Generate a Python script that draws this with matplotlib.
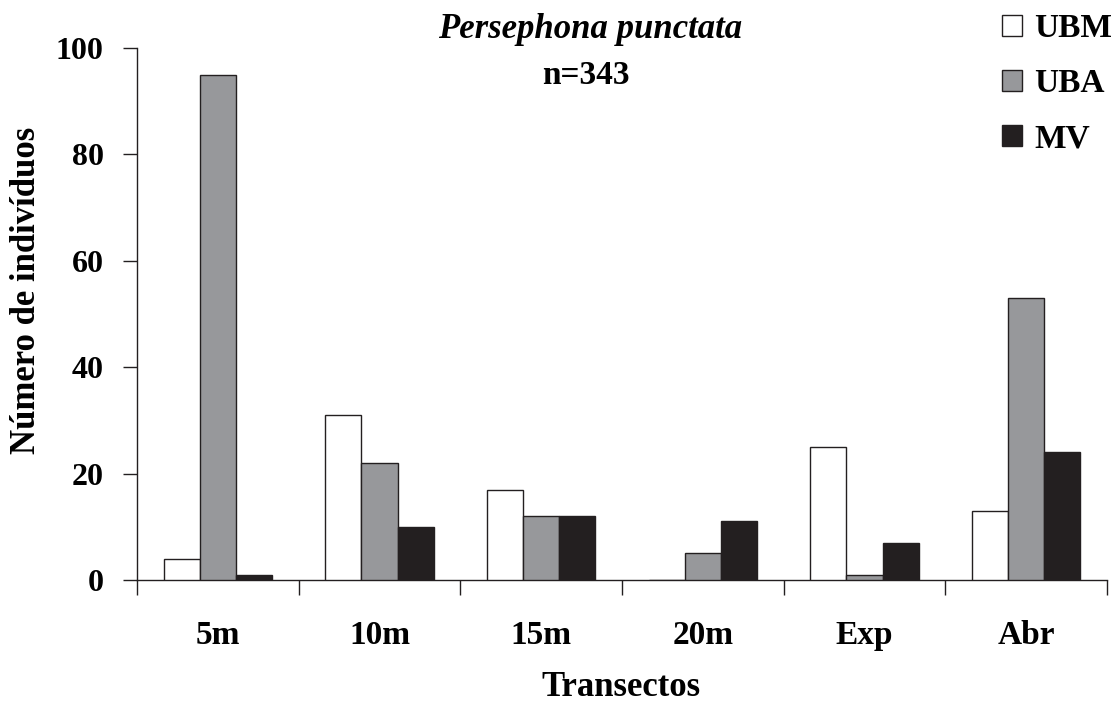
import matplotlib
matplotlib.use("Agg")
import matplotlib.pyplot as plt
import numpy as np
from matplotlib.patches import Patch

categories = ["5m", "10m", "15m", "20m", "Exp", "Abr"]
series_names = ["UBM", "UBA", "MV"]
ubm = [4, 31, 17, 0, 25, 13]
uba = [95, 22, 12, 5, 1, 53]
mv = [1, 10, 12, 11, 7, 24]
yticks = [0, 20, 40, 60, 80, 100]

colors = ["#ffffff", "#97989b", "#231f20"]
edge = "#231f20"

plt.rcParams['font.family'] = ['Liberation Serif', 'DejaVu Serif']
plt.rcParams['font.weight'] = 'bold'

fig = plt.figure(figsize=(11.2, 7.04), dpi=100)
ax = fig.add_axes([137/1120, 1-580/704, (1107-137)/1120, (580-48)/704])

x = np.arange(len(categories))
w = 0.223
for i, (vals, c) in enumerate(zip([ubm, uba, mv], colors)):
    ax.bar(x + (i-1)*w, vals, width=w, color=c, edgecolor=edge, linewidth=1.0,
           label=series_names[i], zorder=3)

ax.set_xlim(-0.5, len(categories)-0.5)
ax.set_ylim(0, 100)
ax.spines['top'].set_visible(False)
ax.spines['right'].set_visible(False)
for s in ['left', 'bottom']:
    ax.spines[s].set_linewidth(1.0)
    ax.spines[s].set_color(edge)

ax.set_yticks(yticks)
ax.set_yticklabels([str(v) for v in yticks], fontsize=23, fontweight='bold')
ax.tick_params(axis='y', length=10, width=1.0, color=edge, pad=14)

ax.set_xticks(x)
ax.set_xticklabels(categories, fontsize=24, fontweight='bold')
ax.tick_params(axis='x', which='major', length=0, pad=29)
ax.set_xticks(np.arange(-0.5, len(categories), 1.0), minor=True)
ax.tick_params(axis='x', which='minor', length=11, width=1.0, color=edge)

fig.text(621/1120, 1-688/704, "Transectos", fontsize=25, fontweight='bold',
         ha='center', va='center')
fig.text(27/1120, 1-290/704, "Número de indivíduos", fontsize=25, fontweight='bold',
         ha='center', va='center', rotation=90)

fig.text(590/1120, 1-30/704, "Persephona punctata", fontsize=25, fontweight='bold',
         style='italic', ha='center', va='center')
fig.text(586/1120, 1-75/704, "n=343", fontsize=24, fontweight='bold',
         ha='center', va='center')

handles = [Patch(facecolor=c, edgecolor=edge, linewidth=1.0) for c in colors]
leg = fig.legend(handles, series_names, loc='upper left',
                 bbox_to_anchor=(979/1120, 1+10/704), frameon=False,
                 prop={'size': 24, 'weight': 'bold'},
                 handlelength=0.6, handleheight=0.6, handletextpad=0.35,
                 labelspacing=0.72, borderpad=0.2)

fig.savefig("out.png", dpi=100)
